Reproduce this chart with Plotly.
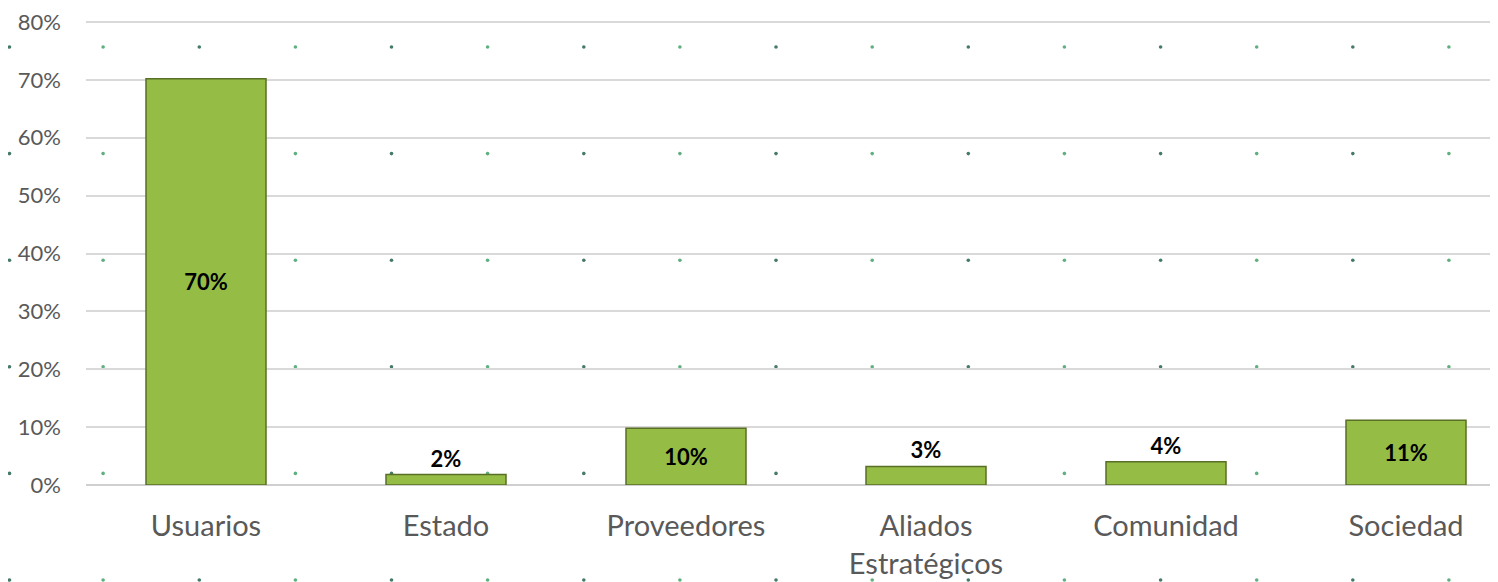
import base64
import plotly.graph_objects as go

categories = ["Usuarios", "Estado", "Proveedores", "Aliados<br>Estratégicos", "Comunidad", "Sociedad"]
values = [70.2, 1.8, 9.8, 3.2, 4.0, 11.2]
label_positions = ["inside", "outside", "inside", "outside", "outside", "inside"]
y_ticks = [0, 10, 20, 30, 40, 50, 60, 70, 80]
y_tick_labels = [f"{v}%" for v in y_ticks]

# the page body adds an 8px offset, so margins are reduced by 8
W, H = 1498, 582
ML, MT, MB = 78, 12, 105
MR = 0
PW, PH = W - ML - MR, H - MT - MB
Y_MAX = 80.35

# decorative dotted background (chart-area pattern fill of the original)
dots = []
for j in range(6):
    for k in range(16):
        cx = max(-1 + 96.13 * k, 1.5)
        cy = 39 + 106.6 * j
        col = "#457a66" if k % 2 == 0 else "#5fb07f"
        dots.append(f'<circle cx="{cx:.1f}" cy="{cy:.1f}" r="1.8" fill="{col}"/>')
svg = (f'<svg xmlns="http://www.w3.org/2000/svg" width="{W}" height="{H}" '
       f'viewBox="0 0 {W} {H}">' + "".join(dots) + "</svg>")
uri = "data:image/svg+xml;base64," + base64.b64encode(svg.encode()).decode()

fig = go.Figure()
fig.add_trace(go.Bar(
    x=categories,
    y=values,
    width=0.5,
    marker=dict(color="#95bd46", line=dict(color="#586f25", width=1.5)),
    texttemplate="<b>%{y:.0f}%</b>",
    textposition=label_positions,
    insidetextanchor="middle",
    textfont=dict(family="Lato, Open Sans, sans-serif", size=22, color="#000000"),
    cliponaxis=False,
    hoverinfo="skip",
))

fig.update_layout(
    width=W, height=H,
    margin=dict(l=ML, r=MR, t=MT, b=MB, pad=0),
    paper_bgcolor="white",
    plot_bgcolor="rgba(0,0,0,0)",
    showlegend=False,
    uniformtext=dict(mode=False),
    images=[dict(
        source=uri, xref="paper", yref="paper",
        x=-ML / PW, y=1 + MT / PH, sizex=W / PW, sizey=H / PH,
        xanchor="left", yanchor="top", sizing="stretch", layer="below",
    )],
    xaxis=dict(
        range=[-0.5, -0.5 + PW / 240.0],
        showgrid=False, zeroline=False, showline=False,
        ticks="", ticklabelstandoff=21,
        tickfont=dict(family="Lato, Open Sans, sans-serif", size=29, color="#595959"),
    ),
    yaxis=dict(
        range=[0, Y_MAX],
        tickvals=y_ticks, ticktext=y_tick_labels,
        ticklabeloverflow="allow",
        showgrid=True, gridcolor="#d9d9d9", gridwidth=1.5,
        zeroline=True, zerolinecolor="#d0d0d0", zerolinewidth=2,
        showline=False, ticks="", ticklabelstandoff=24,
        tickfont=dict(family="Lato, Open Sans, sans-serif", size=22, color="#595959"),
    ),
)

fig.write_html("out.html")
